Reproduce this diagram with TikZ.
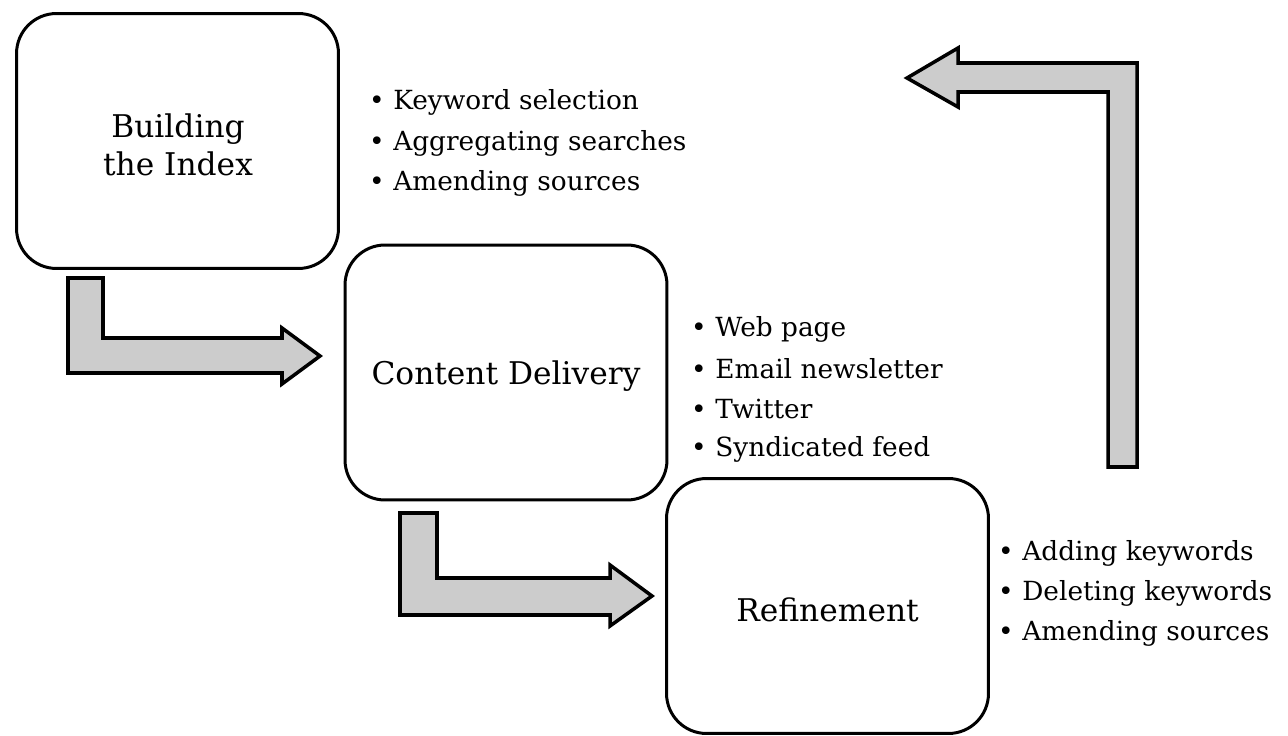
\documentclass[tikz,border=0pt]{standalone}
\usepackage{fontspec}
\setmainfont{DejaVu Serif}
\usepackage{tikz}

\begin{document}
\begin{tikzpicture}[x=0.02cm, y=-0.02cm,
  stage/.style={draw, line width=1.7pt, rounded corners=0.8cm, minimum width=6.44cm, minimum height=5.1cm, align=center, inner sep=0pt, font=\fontsize{17.8}{21.6}\selectfont},
  label/.style={inner sep=0pt, align=center, font=\fontsize{17.8}{21.6}\selectfont},
  item/.style={anchor=west, inner sep=0pt, font=\fontsize{15}{18}\selectfont},
  bigarrow/.style={draw, fill=black!20, line width=2pt, line join=miter}]
        \useasboundingbox (0,0) rectangle (1288,736);
        % stages
        \node [stage] (index) at (177.5, 141) {};
        \node [stage] (delivery) at (506, 372.5) {};
        \node [stage] (refine) at (827.5, 606) {};
        \node [label] (indexlabel) at (178, 145) {Building\\the Index};
        \node [label] (deliverylabel) at (506, 376) {Content Delivery};
        \node [label] (refinelabel) at (827.5, 610) {Refinement};
        % items
        \node [item] (i1) at (393, 102) {\llap{\textbullet\hspace{5pt}}Keyword selection};
        \node [item] (i2) at (393, 143) {\llap{\textbullet\hspace{5pt}}Aggregating searches};
        \node [item] (i3) at (393, 183) {\llap{\textbullet\hspace{5pt}}Amending sources};
        \node [item] (d1) at (715, 329) {\llap{\textbullet\hspace{5pt}}Web page};
        \node [item] (d2) at (715, 369) {\llap{\textbullet\hspace{5pt}}Email newsletter};
        \node [item] (d3) at (715, 409) {\llap{\textbullet\hspace{5pt}}Twitter};
        \node [item] (d4) at (715, 449) {\llap{\textbullet\hspace{5pt}}Syndicated feed};
        \node [item] (r1) at (1022, 553) {\llap{\textbullet\hspace{5pt}}Adding keywords};
        \node [item] (r2) at (1022, 593) {\llap{\textbullet\hspace{5pt}}Deleting keywords};
        \node [item] (r3) at (1022, 633) {\llap{\textbullet\hspace{5pt}}Amending sources};
        % block arrows
        \draw [bigarrow] (68, 278) -- (103, 278) -- (103, 338) -- (282, 338) -- (282, 328)
              -- (320, 356) -- (282, 384) -- (282, 373) -- (68, 373) -- cycle;
        \draw [bigarrow] (400, 513) -- (437, 513) -- (437, 578) -- (610, 578) -- (610, 565)
              -- (652, 596) -- (610, 626) -- (610, 615) -- (400, 615) -- cycle;
        \draw [bigarrow] (1108, 467) -- (1108, 92) -- (958, 92) -- (958, 107)
              -- (907, 78) -- (958, 48) -- (958, 63) -- (1137, 63) -- (1137, 467) -- cycle;
      \end{tikzpicture}
\end{document}
